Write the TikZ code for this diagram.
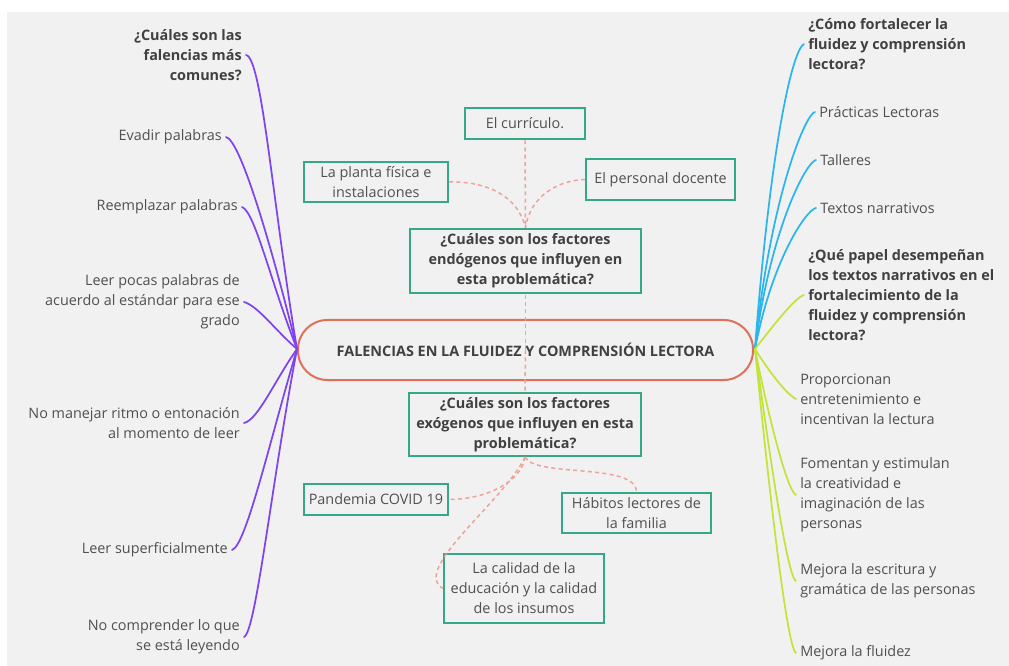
\documentclass[tikz,border=0pt]{standalone}
\usepackage{fontspec}
\setmainfont{Open Sans}
\definecolor{bgc}{HTML}{F1F1F1}
\definecolor{tealc}{HTML}{35A889}
\definecolor{pillc}{HTML}{E0705A}
\definecolor{dashc}{HTML}{F0A096}
\definecolor{purp}{HTML}{7E44F0}
\definecolor{bluec}{HTML}{2BB5EE}
\definecolor{greenc}{HTML}{C2E43A}
\definecolor{txtc}{HTML}{505050}
\begin{document}
\begin{tikzpicture}[x=0.75pt,y=-0.75pt,
  txt/.style={font=\fontsize{10.8}{15}\selectfont, text=txtc, inner sep=3pt},
  lbl/.style={txt, anchor=east, align=right},
  rbl/.style={txt, anchor=west, align=left},
  qb/.style={font=\fontsize{10.8}{15}\selectfont\bfseries, text=black!75},
  box/.style={draw=tealc, line width=1.5pt, fill=bgc, inner sep=0pt, align=center, txt},
  branch/.style={line width=1.3pt, line cap=round},
  dsh/.style={draw=dashc, line width=1.1pt, dash pattern=on 3pt off 2.5pt}]
\useasboundingbox (0,0) rectangle (1009,666);
\fill[white] (0,0) rectangle (1009,666);
\fill[bgc] (7,12) rectangle (1009,666);

% hubs
\coordinate (hubL) at (297,349);
\coordinate (hubR) at (755,349);

% central node
\node[draw=pillc, line width=1.5pt, rounded corners=22pt, minimum width=341.25pt, minimum height=45pt, inner sep=0pt,
  font=\fontsize{10.8}{15}\selectfont\bfseries, text=black!75] (center) at (525.5,350) {FALENCIAS EN LA FLUIDEZ Y COMPRENSIÓN LECTORA};

% left labels
\node[lbl, qb] (l1) at (246,55) {¿Cuáles son las\\falencias más\\comunes?};
\node[lbl] (l2) at (226,137) {Evadir palabras};
\node[lbl] (l3) at (242,207) {Reemplazar palabras};
\node[lbl] (l4) at (244,302) {Leer pocas palabras de\\acuerdo al estándar para ese\\grado};
\node[lbl] (l5) at (244,423) {No manejar ritmo o entonación\\al momento de leer};
\node[lbl] (l6) at (232,550) {Leer superficialmente};
\node[lbl] (l7) at (244,637) {No comprender lo que\\se está leyendo};

% right labels
\node[rbl, qb] (r1) at (804,44) {¿Cómo fortalecer la\\fluidez y comprensión\\lectora?};
\node[rbl] (r2) at (815,112) {Prácticas Lectoras};
\node[rbl] (r3) at (816,160) {Talleres};
\node[rbl] (r4) at (816,208) {Textos narrativos};
\node[rbl, qb] (r5) at (804,295) {¿Qué papel desempeñan\\los textos narrativos en el\\fortalecimiento de la\\fluidez y comprensión\\lectora?};
\node[rbl] (r6) at (796,399) {Proporcionan\\entretenimiento e\\incentivan la lectura};
\node[rbl] (r7) at (796,495) {Fomentan y estimulan\\la creatividad e\\imaginación de las\\personas};
\node[rbl] (r8) at (796,581) {Mejora la escritura y\\gramática de las personas};
\node[rbl] (r9) at (796,653) {Mejora la fluidez};

% boxes
\node[box, minimum width=90pt, minimum height=23.25pt] (cur) at (525,123.5) {El currículo.};
\node[box, minimum width=108pt, minimum height=28.5pt] (plant) at (376,182) {La planta física e\\instalaciones};
\node[box, minimum width=111.75pt, minimum height=30.75pt] (doc) at (660.5,179.5) {El personal docente};
\node[box, qb, minimum width=173.25pt, minimum height=48pt] (endo) at (525.5,261) {¿Cuáles son los factores\\endógenos que influyen en\\esta problemática?};
\node[box, qb, minimum width=174pt, minimum height=47.25pt] (exo) at (525,424.5) {¿Cuáles son los factores\\exógenos que influyen en esta\\problemática?};
\node[box, minimum width=108pt, minimum height=23.25pt] (pand) at (376,499.5) {Pandemia COVID 19};
\node[box, minimum width=111.75pt, minimum height=28.5pt] (hab) at (636.5,513) {Hábitos lectores de\\la familia};
\node[box, minimum width=120pt, minimum height=51.75pt] (cal) at (524,588.5) {La calidad de la\\educación y la calidad\\de los insumos};

% left branches
\begin{scope}[branch, draw=purp]
\draw (l1.east) .. controls (262,58) and (272,200) .. (hubL);
\draw (l2.east) .. controls (240,140) and (270,240) .. (hubL);
\draw (l3.east) .. controls (255,212) and (270,280) .. (hubL);
\draw (l4.east) .. controls (258,306) and (275,330) .. (hubL);
\draw (l5.east) .. controls (258,420) and (275,380) .. (hubL);
\draw (l6.east) .. controls (246,546) and (270,440) .. (hubL);
\draw (l7.east) .. controls (256,632) and (272,480) .. (hubL);
\end{scope}

% right branches
\begin{scope}[branch, draw=bluec]
\draw (r1.west) .. controls (792,50) and (770,150) .. (hubR);
\draw (r2.west) .. controls (805,114) and (770,200) .. (hubR);
\draw (r3.west) .. controls (806,162) and (770,230) .. (hubR);
\draw (r4.west) .. controls (806,210) and (772,260) .. (hubR);
\end{scope}
\begin{scope}[branch, draw=greenc]
\draw (r5.west) .. controls (794,298) and (770,330) .. (hubR);
\draw (r6.west) .. controls (786,394) and (768,370) .. (hubR);
\draw (r7.west) .. controls (786,490) and (765,400) .. (hubR);
\draw (r8.west) .. controls (786,576) and (765,420) .. (hubR);
\draw (r9.west) .. controls (786,648) and (765,450) .. (hubR);
\end{scope}

% dashed connectors
\draw[dsh] (center.center) -- (endo.south);
\draw[dsh] (center.center) -- (exo.north);
\draw[dsh] (cur.south) -- (endo.north);
\draw[dsh] (plant.east) .. controls (485,181) and (518,195) .. (endo.north);
\draw[dsh] (doc.west) .. controls (560,180) and (530,195) .. (endo.north);
\draw[dsh] (exo.south) .. controls (522,480) and (490,499) .. (pand.east);
\draw[dsh] (exo.south) .. controls (535,478) and (637,462) .. (hab.north);
\draw[dsh] (exo.south) .. controls (505,500) and (410,570) .. (cal.west);
\end{tikzpicture}
\end{document}
